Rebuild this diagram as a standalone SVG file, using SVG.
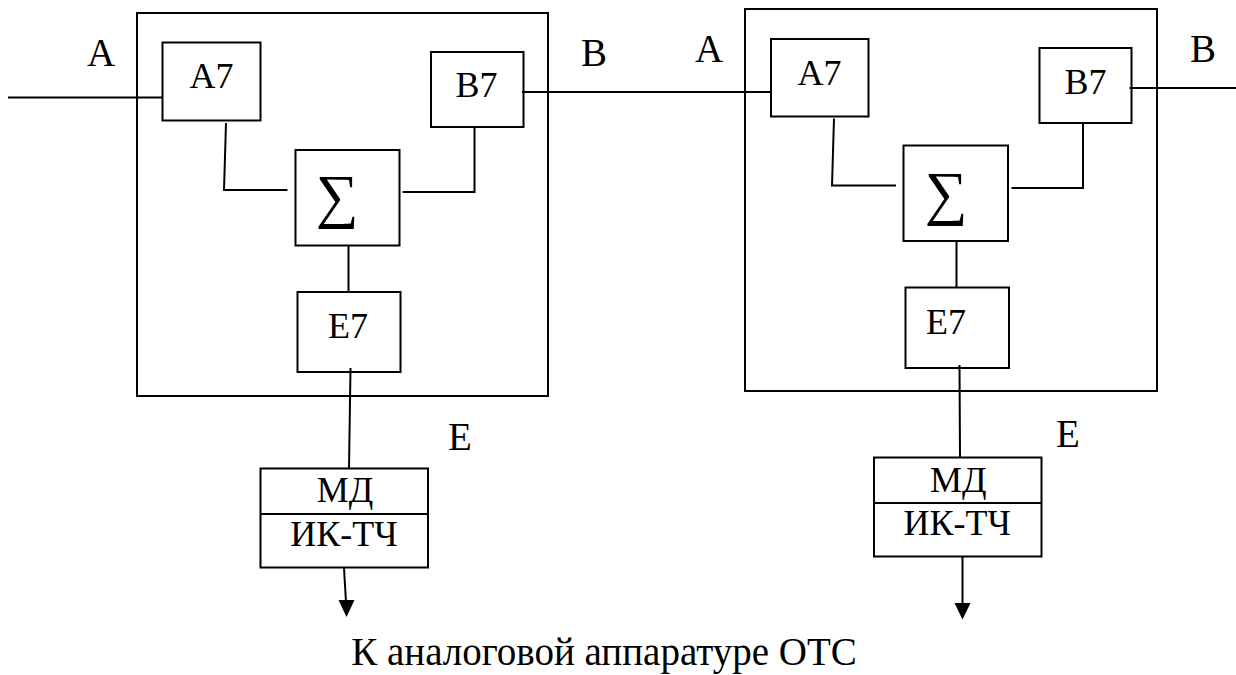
<svg xmlns="http://www.w3.org/2000/svg" width="1236" height="675" viewBox="0 0 1236 675">
<g id="frames" fill="none" stroke="#000" stroke-width="2">
<rect id="frame1" x="137" y="13" width="411" height="383"/>
<rect id="frame2" x="745" y="9" width="412" height="382"/>
</g>
<g id="nodes" fill="none" stroke="#000" stroke-width="2">
<rect id="A7_1_box" x="162.5" y="42.5" width="98" height="78"/>
<rect id="B7_1_box" x="431" y="52" width="92.5" height="75"/>
<rect id="S_1_box" x="295.5" y="150" width="104" height="95.5"/>
<rect id="E7_1_box" x="297.5" y="292" width="103" height="80"/>
<rect id="MD_1_box" x="260.5" y="468.5" width="167.5" height="99"/>
<line x1="260.5" y1="514" x2="428" y2="514"/>
<rect id="A7_2_box" x="771" y="39" width="97.5" height="77.5"/>
<rect id="B7_2_box" x="1039.5" y="48" width="92" height="75"/>
<rect id="S_2_box" x="903.5" y="145.5" width="104.5" height="95.5"/>
<rect id="E7_2_box" x="905.5" y="287.5" width="103.5" height="80.5"/>
<rect id="MD_2_box" x="874" y="457.5" width="167.5" height="99"/>
<line x1="874" y1="503" x2="1041.5" y2="503"/>
</g>
<g id="texts" text-anchor="middle" fill="#000">
<text font-family="Liberation Serif" font-size="36" x="211.5" y="88">A7</text>
<text font-family="Liberation Serif" font-size="36" x="476.5" y="97">B7</text>
<text font-family="Liberation Serif" font-size="60" x="337" y="216">∑</text>
<text font-family="Liberation Serif" font-size="36" x="348" y="338">E7</text>
<text font-family="Liberation Serif" font-size="36" x="345" y="502">МД</text>
<text font-family="Liberation Serif" font-size="36" x="344" y="546">ИК-ТЧ</text>
<text font-family="Liberation Serif" font-size="36" x="819.5" y="85">A7</text>
<text font-family="Liberation Serif" font-size="36" x="1085.5" y="93.5">B7</text>
<text font-family="Liberation Serif" font-size="60" x="946" y="213">∑</text>
<text font-family="Liberation Serif" font-size="36" x="946" y="333.5">E7</text>
<text font-family="Liberation Serif" font-size="36" x="958.3" y="492">МД</text>
<text font-family="Liberation Serif" font-size="36" x="957.3" y="535">ИК-ТЧ</text>
<text font-family="Liberation Serif" font-size="39" x="101" y="66">A</text>
<text font-family="Liberation Serif" font-size="39" x="594" y="66">B</text>
<text font-family="Liberation Serif" font-size="39" x="709" y="62">A</text>
<text font-family="Liberation Serif" font-size="39" x="1203" y="62">B</text>
<text font-family="Liberation Serif" font-size="39" x="460" y="450">E</text>
<text font-family="Liberation Serif" font-size="39" x="1068" y="447">E</text>
<text font-family="Liberation Serif" font-size="39" x="604" y="665">К аналоговой аппаратуре ОТС</text>
</g>
<g id="connectors" fill="none" stroke="#000" stroke-width="2">
<line x1="8" y1="97.5" x2="162.5" y2="97.5"/>
<line x1="522" y1="92" x2="771" y2="92"/>
<polyline points="226,123 224,190 287.5,190"/>
<polyline points="402.5,192 474.5,192 474.5,127"/>
<line x1="348.5" y1="245.5" x2="348.5" y2="292"/>
<line x1="350.5" y1="368" x2="349" y2="468.5"/>
<line x1="344" y1="568" x2="346" y2="602"/>
<polyline points="834,118.5 832,185.5 896,185.5"/>
<polyline points="1011.5,188 1083,188 1083,123"/>
<line x1="956.5" y1="241" x2="956.5" y2="287.5"/>
<line x1="1129.5" y1="88" x2="1236" y2="88"/>
<line x1="959.5" y1="365" x2="960" y2="457.5"/>
<line x1="962.5" y1="557" x2="962.5" y2="604"/>
<path d="M338.5 600 L354.5 600 L346.5 617 Z" fill="#000" stroke="none"/>
<path d="M954.5 603 L970.5 603 L962.5 619.5 Z" fill="#000" stroke="none"/>
</g>
</svg>
